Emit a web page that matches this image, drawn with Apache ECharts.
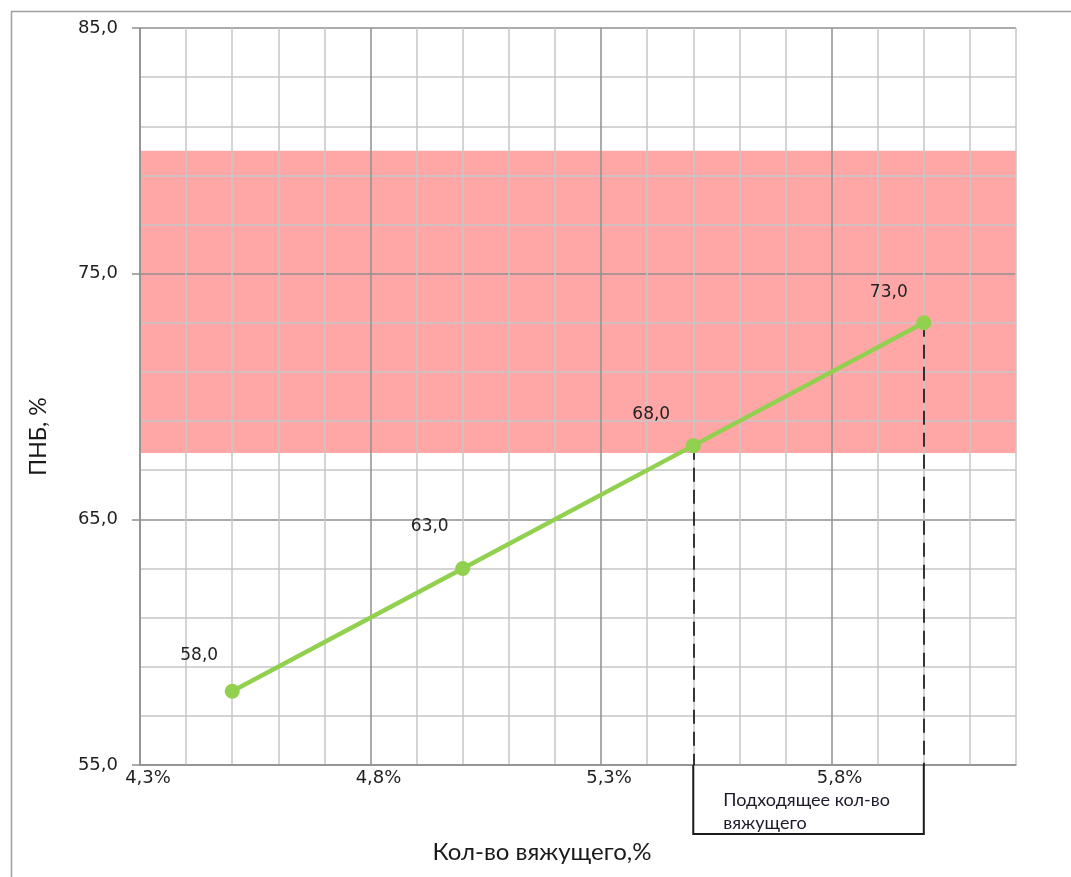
<!DOCTYPE html>
<html><head><meta charset="utf-8">
<script src="https://cdn.jsdelivr.net/npm/echarts@6/dist/echarts.min.js"></script>
<style>html,body{margin:0;padding:0;background:#fff}#chart{width:1071px;height:877px}</style>
</head><body><div id="chart"></div>
<script>
// ---- data ----
const binderPct = [4.5, 5.0, 5.5, 6.0];
const pnbValues = [58.0, 63.0, 68.0, 73.0];
const xTickLabels = [4.3, 4.8, 5.3, 5.8];
const yTickLabels = [55, 65, 75, 85];
const xRange = [4.3, 6.2];
const yRange = [55, 85];
const targetBand = [67.7, 80.0];
const suitableRange = [5.5, 6.0];
const xTitle = 'Кол-во вяжущего,%';
const yTitle = 'ПНБ, %';
const noteText = 'Подходящее кол-во\nвяжущего';

// ---- layout / style (not data) ----
const labelOffsets = [[-33, -36], [-33, -42], [-42, -31], [-35, -30]];
const MAJOR = '#8f8f8f', MINOR = '#c6c6c6', NONE = 'rgba(0,0,0,0)';
const GRID_W = 1.5;
const numFont = 'DejaVu Sans';
const titleFont = 'Lato';

const near = (v, list) => list.some(t => Math.abs(t - v) < 1e-6);
const comma = (v, d) => v.toFixed(d).replace('.', ',');

const chart = echarts.init(document.getElementById('chart'), null, {renderer: 'canvas'});

const option = {
  animation: false,
  backgroundColor: '#fff',
  grid: {left: 140, right: 55, top: 28, bottom: 112, containLabel: false, outerBoundsMode: 'none'},
  xAxis: {
    type: 'value', min: xRange[0], max: xRange[1], interval: 0.1, z: 1.5,
    name: xTitle, nameLocation: 'middle', nameGap: 75,
    nameTextStyle: {fontFamily: titleFont, fontSize: 24, color: '#1a1a1a', padding: [0, 72, 0, 0]},
    axisLine: {show: true, lineStyle: {color: MAJOR, width: GRID_W}},
    axisTick: {show: false},
    axisLabel: {
      customValues: xTickLabels, margin: 4, padding: [0, 0, 0, 16],
      fontFamily: numFont, fontSize: 18, color: '#1f1f1f',
      formatter: v => near(v, xTickLabels) ? comma(v, 1) + '%' : ''
    },
    splitLine: {show: true, lineStyle: {color: [MAJOR, MINOR, MINOR, MINOR, MINOR], width: GRID_W}}
  },
  yAxis: [{
    type: 'value', min: yRange[0], max: yRange[1], interval: 1, z: 1.5,
    position: 'left',
    name: yTitle, nameLocation: 'middle', nameRotate: 90, nameGap: 90,
    nameTextStyle: {fontFamily: titleFont, fontSize: 23, color: '#1a1a1a', padding: [0, 80, 0, 0]},
    axisLine: {show: true, lineStyle: {color: MAJOR, width: GRID_W}},
    axisTick: {show: false},
    axisLabel: {
      customValues: yTickLabels, margin: 22,
      fontFamily: numFont, fontSize: 18, color: '#1f1f1f',
      formatter: v => near(v, yTickLabels) ? comma(v, 1) : ''
    },
    splitLine: {show: true, lineStyle: {
      color: [MAJOR, NONE, MINOR, NONE, MINOR, NONE, MINOR, NONE, MINOR, NONE], width: GRID_W}}
  }, {
    // tick marks only, at the labelled values
    type: 'value', min: yRange[0], max: yRange[1], interval: 1, z: 1.5,
    position: 'left', offset: 0,
    axisLine: {show: false},
    axisTick: {show: true, customValues: yTickLabels, length: 8, inside: false, lineStyle: {color: MAJOR, width: GRID_W}},
    axisLabel: {show: false},
    splitLine: {show: false}
  }],
  series: [{
    type: 'line', z: 2,
    data: binderPct.map((x, i) => ({value: [x, pnbValues[i]], label: {offset: labelOffsets[i]}})),
    symbol: 'circle', symbolSize: 15,
    lineStyle: {color: '#92D050', width: 4.5},
    itemStyle: {color: '#92D050'},
    label: {
      show: true, position: 'inside',
      fontFamily: numFont, fontSize: 17, color: '#222222',
      formatter: p => comma(p.value[1], 1)
    },
    emphasis: {disabled: true},
    markArea: {
      silent: true, z: 1,
      itemStyle: {color: '#FFA6A6'},
      label: {show: false},
      data: [[{xAxis: xRange[0], yAxis: targetBand[0]}, {xAxis: xRange[1], yAxis: targetBand[1]}]]
    },
    markLine: {
      silent: true, z: 1.9, symbol: ['none', 'none'],
      label: {show: false},
      lineStyle: {type: [14, 8], color: '#000', width: 1.5},
      data: suitableRange.map(v => {
        const i = binderPct.indexOf(v);
        return [{coord: [v, pnbValues[i]]}, {coord: [v, yRange[0]]}];
      })
    }
  }]
};
chart.setOption(option);

// annotation bracket below the axis, positioned through the chart's own scales
const pA = chart.convertToPixel({gridIndex: 0}, [suitableRange[0], yRange[0]]);
const pB = chart.convertToPixel({gridIndex: 0}, [suitableRange[1], yRange[0]]);
const drop = 69;
chart.setOption({
  graphic: [
    {type: 'rect', silent: true,
     shape: {x: 11.5, y: 11.5, width: 1200, height: 1000},
     style: {fill: 'none', stroke: '#a0a0a0', lineWidth: 1.5}},
    {type: 'polyline', silent: true, z: 10,
     shape: {points: [[pA[0], pA[1]], [pA[0], pA[1] + drop], [pB[0], pB[1] + drop], [pB[0], pB[1]]]},
     style: {fill: 'none', stroke: '#1a1a1a', lineWidth: 2}},
    {type: 'text', silent: true, z: 10, x: pA[0] + 30, y: pA[1] + 24,
     style: {text: noteText, fontFamily: titleFont, fontSize: 18, lineHeight: 23,
             fill: '#1a1a2a', verticalAlign: 'top', align: 'left'}}
  ]
});
</script></body></html>
